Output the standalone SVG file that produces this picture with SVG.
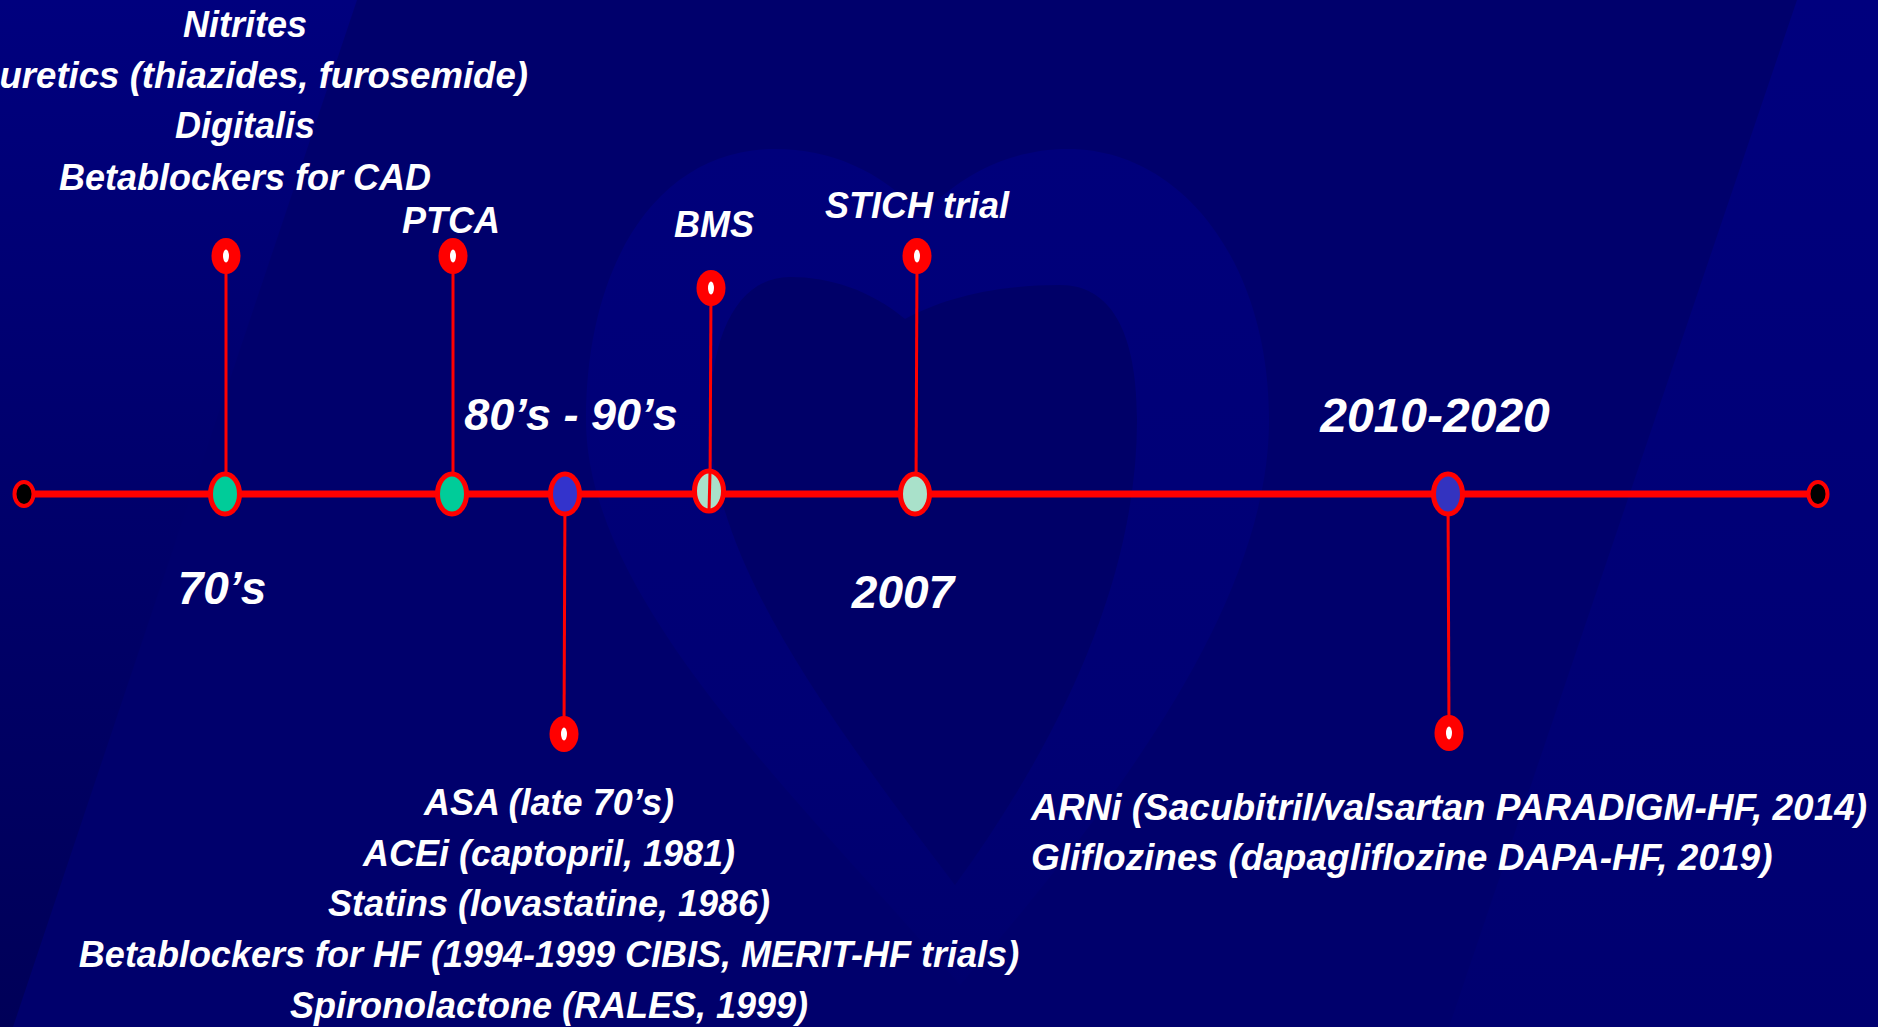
<svg xmlns="http://www.w3.org/2000/svg" width="1878" height="1027" viewBox="0 0 1878 1027">
<defs>
<style>
.t{font-family:"Liberation Sans",Arial,sans-serif;font-weight:bold;font-style:italic;fill:#FFFFFF;}
.s{font-size:36px;}
.b{font-size:46px;}
.stem{stroke:#FF0000;stroke-width:3;fill:none;}
.axis{stroke:#FF0000;stroke-width:7;fill:none;}
.node{stroke:#FF0000;stroke-width:5;}
.end{stroke:#FF0000;stroke-width:4;fill:#000000;}
.pin{fill:#FF0000;}
.pinc{fill:#FFFFFF;}
</style>
<linearGradient id="lg" x1="0" y1="0" x2="0" y2="1">
<stop offset="0" stop-color="#00007e"/>
<stop offset="1" stop-color="#000058"/>
</linearGradient>
<linearGradient id="rg" x1="0" y1="0" x2="0" y2="1">
<stop offset="0" stop-color="#00007e"/>
<stop offset="1" stop-color="#000070"/>
</linearGradient>
<linearGradient id="hg" x1="0" y1="0" x2="0" y2="1">
<stop offset="0" stop-color="#00007b"/>
<stop offset="0.7" stop-color="#000074"/>
<stop offset="1" stop-color="#00006e"/>
</linearGradient>
</defs>
<g id="background">
<rect x="0" y="0" width="1878" height="1027" fill="#00006c"/>
<polygon points="0,0 357,0 13,1027 0,1027" fill="url(#lg)"/>
<polygon points="1797,0 1878,0 1878,1027 1449,1027" fill="url(#rg)"/>
<path d="M922,215 C880,170 830,149 775,149 C660,149 586,260 586,420 C586,600 800,800 960,985 C1120,800 1269,600 1269,420 C1269,260 1180,149 1068,149 C1010,149 960,175 922,215 Z" fill="url(#hg)"/>
<path d="M905,319 C870,290 830,277 790,277 C740,277 710,330 710,420 C710,560 830,720 955,885 C1060,740 1137,580 1137,420 C1137,330 1110,285 1060,285 C990,285 940,300 905,319 Z" fill="#000068"/>
</g>
<g id="connectors">
<line class="axis" x1="24" y1="494" x2="1818" y2="494"/>
<line class="stem" x1="226" y1="256" x2="226" y2="494"/>
<line class="stem" x1="453" y1="256" x2="453" y2="494"/>
<line class="stem" x1="711" y1="288" x2="710" y2="494"/>
<line class="stem" x1="917" y1="256" x2="916" y2="494"/>
<line class="stem" x1="565" y1="494" x2="564" y2="734"/>
<line class="stem" x1="1448" y1="494" x2="1449" y2="733"/>
</g>
<g id="start"><ellipse class="end" cx="24" cy="494" rx="9.5" ry="12"/></g>
<g id="finish"><ellipse class="end" cx="1818" cy="494" rx="9.5" ry="12"/></g>
<g id="node-70s"><ellipse class="node" cx="225" cy="494" rx="14.5" ry="20" fill="#00CC99"/></g>
<g id="node-ptca"><ellipse class="node" cx="452" cy="494" rx="14.5" ry="20" fill="#00CC99"/></g>
<g id="node-80s90s"><ellipse class="node" cx="565" cy="494" rx="14.5" ry="20" fill="#3333CC"/></g>
<g id="node-bms"><ellipse class="node" cx="709" cy="491" rx="14.5" ry="20" fill="#A9E1CA"/><line class="stem" x1="710" y1="472" x2="709" y2="512"/></g>
<g id="node-2007"><ellipse class="node" cx="915" cy="494" rx="14.5" ry="20" fill="#A9E1CA"/></g>
<g id="node-2010"><ellipse class="node" cx="1448" cy="494" rx="14.5" ry="20" fill="#3333C0"/></g>
<g id="pin-70s"><ellipse class="pin" cx="226" cy="256" rx="14.5" ry="18"/><ellipse class="pinc" cx="226" cy="256" rx="3" ry="6.5"/></g>
<g id="pin-ptca"><ellipse class="pin" cx="453" cy="256" rx="14.5" ry="18"/><ellipse class="pinc" cx="453" cy="256" rx="3" ry="6.5"/></g>
<g id="pin-bms"><ellipse class="pin" cx="711" cy="288" rx="14.5" ry="18"/><ellipse class="pinc" cx="711" cy="288" rx="3" ry="6.5"/></g>
<g id="pin-stich"><ellipse class="pin" cx="917" cy="256" rx="14.5" ry="18"/><ellipse class="pinc" cx="917" cy="256" rx="3" ry="6.5"/></g>
<g id="pin-asa"><ellipse class="pin" cx="564" cy="734" rx="14.5" ry="18"/><ellipse class="pinc" cx="564" cy="734" rx="3" ry="6.5"/></g>
<g id="pin-2010"><ellipse class="pin" cx="1449" cy="733" rx="14.5" ry="18"/><ellipse class="pinc" cx="1449" cy="733" rx="3" ry="6.5"/></g>
<g id="label-70s-drugs" class="t s">
<text x="245" y="37" text-anchor="middle">Nitrites</text>
<text x="528" y="88" text-anchor="end" style="font-size:36.6px">uretics (thiazides, furosemide)</text>
<text x="245" y="138" text-anchor="middle">Digitalis</text>
<text x="245" y="190" text-anchor="middle">Betablockers for CAD</text>
</g>
<g id="label-ptca"><text class="t s" x="451" y="233" text-anchor="middle">PTCA</text></g>
<g id="label-bms"><text class="t s" x="714" y="237" text-anchor="middle">BMS</text></g>
<g id="label-stich"><text class="t s" x="917" y="218" text-anchor="middle">STICH trial</text></g>
<g id="label-80s90s"><text class="t" style="font-size:45px" x="571" y="430" text-anchor="middle">80’s - 90’s</text></g>
<g id="label-70s"><text class="t b" x="222" y="604" text-anchor="middle">70’s</text></g>
<g id="label-2007"><text class="t b" x="903" y="608" text-anchor="middle">2007</text></g>
<g id="label-2010"><text class="t" style="font-size:48px" x="1435" y="432" text-anchor="middle">2010-2020</text></g>
<g id="label-80s90s-drugs" class="t s" text-anchor="middle">
<text x="549" y="815">ASA (late 70’s)</text>
<text x="549" y="866">ACEi (captopril, 1981)</text>
<text x="549" y="916">Statins (lovastatine, 1986)</text>
<text x="549" y="967">Betablockers for HF (1994-1999 CIBIS, MERIT-HF trials)</text>
<text x="549" y="1018">Spironolactone (RALES, 1999)</text>
</g>
<g id="label-2010-drugs" class="t" style="font-size:37px">
<text x="1031" y="820">ARNi (Sacubitril/valsartan PARADIGM-HF, 2014)</text>
<text x="1031" y="870">Gliflozines (dapagliflozine DAPA-HF, 2019)</text>
</g>
</svg>
